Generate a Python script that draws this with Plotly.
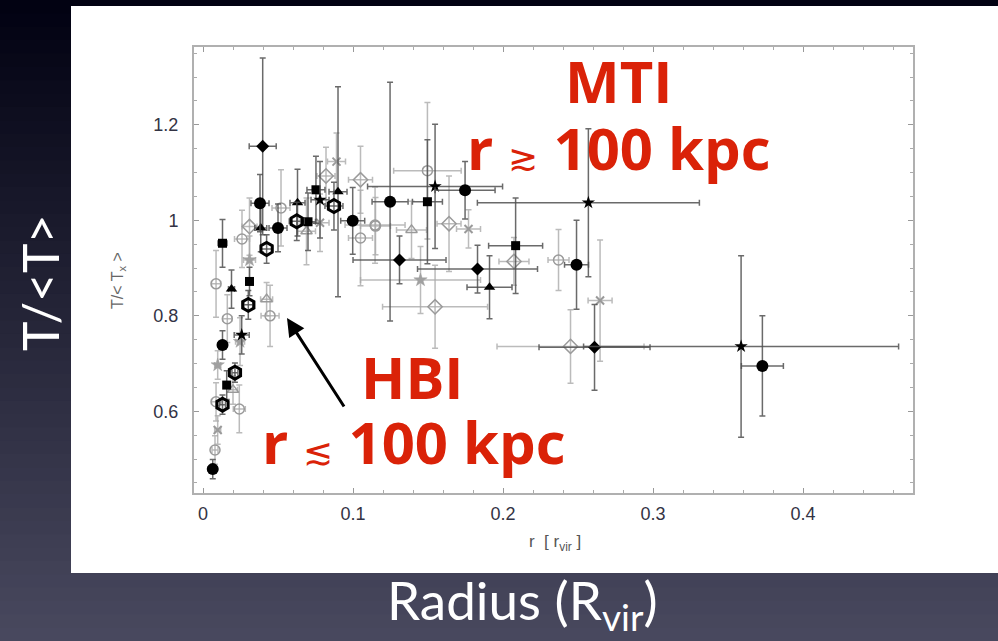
import plotly.graph_objects as go

# ---------------- data ----------------
# filled black circles
fc_x  = [0.0065, 0.038, 0.050, 0.0998, 0.1247, 0.1747, 0.249, 0.3729, 0.013]
fc_y  = [0.479, 1.036, 0.984, 0.999, 1.039, 1.063, 0.907, 0.695, 0.739]
fc_ex = [0.003, 0.006, 0.006, 0.008, 0.012, 0.020, 0.008, 0.014, 0.003]
fc_ey = [0.020, 0.060, 0.050, 0.070, 0.250, 0.060, 0.093, 0.105, 0.030]

# filled black diamonds (small)
fd_x  = [0.0398, 0.131, 0.183, 0.261]
fd_y  = [1.155, 0.917, 0.898, 0.734]
fd_ex = [0.009, 0.031, 0.040, 0.037]
fd_ey = [0.185, 0.050, 0.050, 0.090]

# filled black squares
fs_x  = [0.013, 0.031, 0.0158, 0.070, 0.0753, 0.1496, 0.2084]
fs_y  = [0.952, 0.872, 0.655, 0.997, 1.064, 1.039, 0.947]
fs_ex = [0.003, 0.002, 0.002, 0.005, 0.006, 0.010, 0.018]
fs_ey = [0.050, 0.030, 0.030, 0.060, 0.070, 0.130, 0.100]

# filled black triangles
ft_x  = [0.019, 0.0385, 0.063, 0.090, 0.191]
ft_y  = [0.856, 0.984, 1.037, 1.060, 0.860]
ft_ex = [0.002, 0.004, 0.005, 0.006, 0.015]
ft_ey = [0.040, 0.050, 0.070, 0.220, 0.066]

# filled black stars
fst_x   = [0.0258, 0.078, 0.1547, 0.2569, 0.3587]
fst_y   = [0.760, 1.043, 1.071, 1.037, 0.736]
fst_exp = [0.005, 0.006, 0.045, 0.074, 0.105]
fst_exm = [0.005, 0.006, 0.045, 0.074, 0.105]
fst_ey  = [0.040, 0.080, 0.130, 0.155, 0.190]

# open thick black hexagons
oh_x  = [0.013, 0.0213, 0.0302, 0.0424, 0.0625, 0.0873]
oh_y  = [0.614, 0.681, 0.823, 0.940, 0.998, 1.030]
oh_ex = [0.002, 0.002, 0.003, 0.004, 0.005, 0.006]
oh_ey = [0.020, 0.020, 0.030, 0.030, 0.040, 0.050]

# grey open circles
gc_x  = [0.0087, 0.0162, 0.0242, 0.0087, 0.008, 0.026, 0.0447, 0.1496, 0.1147, 0.237, 0.115, 0.105, 0.052]
gc_y  = [0.867, 0.794, 0.605, 0.620, 0.519, 0.961, 0.800, 1.104, 0.990, 0.917, 0.988, 0.963, 1.026]
gc_ex = [0.003, 0.003, 0.004, 0.003, 0.002, 0.005, 0.006, 0.0225, 0.020, 0.007, 0.010, 0.008, 0.006]
gc_ey = [0.070, 0.050, 0.050, 0.040, 0.030, 0.060, 0.064, 0.143, 0.080, 0.064, 0.060, 0.100, 0.080]

# grey open diamonds
gd_x  = [0.164, 0.1547, 0.2073, 0.245, 0.031, 0.082, 0.105]
gd_y  = [0.993, 0.819, 0.914, 0.736, 0.987, 1.093, 1.085]
gd_ex = [0.008, 0.035, 0.010, 0.049, 0.005, 0.006, 0.008]
gd_ey = [0.100, 0.087, 0.050, 0.077, 0.060, 0.060, 0.070]

# grey open triangles
gt_x  = [0.0424, 0.020, 0.139, 0.069]
gt_y  = [0.835, 0.645, 0.980, 0.977]
gt_ex = [0.004, 0.003, 0.010, 0.006]
gt_ey = [0.035, 0.030, 0.060, 0.070]

# grey stars
gs_x  = [0.0098, 0.031, 0.145, 0.0247]
gs_y  = [0.697, 0.917, 0.875, 0.746]
gs_ex = [0.002, 0.004, 0.040, 0.003]
gs_ey = [0.030, 0.050, 0.070, 0.050]

# grey crosses
gx_x  = [0.0098, 0.089, 0.177, 0.2647, 0.078]
gx_y  = [0.561, 1.123, 0.982, 0.832, 0.995]
gx_ex = [0.002, 0.006, 0.008, 0.008, 0.006]
gx_ey = [0.030, 0.060, 0.040, 0.127, 0.060]

x_ticks = [0, 0.1, 0.2, 0.3, 0.4]
x_tick_labels = ["0", "0.1", "0.2", "0.3", "0.4"]
y_ticks = [0.6, 0.8, 1.0, 1.2]
y_tick_labels = ["0.6", "0.8", "1", "1.2"]

# ---------------- layout geometry ----------------
W, H = 998, 641
L, R, T, B = 194, 913, 47, 493
PW, PH = R - L, B - T


def px(xp):
    return (xp - L) / PW


def py(yp):
    return (B - yp) / PH


fig = go.Figure()

DARK_ERR = "rgba(80,80,80,0.85)"
GREY_ERR = "rgba(170,170,170,0.8)"


def add(x, y, ex, ey, symbol, size, color, line_color, line_w, err_color, exm=None):
    ex_dict = dict(type="data", array=ex, color=err_color, thickness=1.5, width=3)
    if exm is not None:
        ex_dict["symmetric"] = False
        ex_dict["arrayminus"] = exm
    fig.add_trace(go.Scatter(
        x=x, y=y, mode="markers",
        marker=dict(symbol=symbol, size=size, color=color,
                    line=dict(color=line_color, width=line_w)),
        error_x=ex_dict,
        error_y=dict(type="data", array=ey, color=err_color, thickness=1.5, width=3),
        showlegend=False, hoverinfo="x+y"))


# grey ones first (underneath)
add(gc_x, gc_y, gc_ex, gc_ey, "circle-open", 10, "#9a9a9a", "#9a9a9a", 1.5, GREY_ERR)
add(gd_x, gd_y, gd_ex, gd_ey, "diamond-open", 11, "#9a9a9a", "#9a9a9a", 1.5, GREY_ERR)
add(gt_x, gt_y, gt_ex, gt_ey, "triangle-up-open", 10, "#9a9a9a", "#9a9a9a", 1.5, GREY_ERR)
add(gs_x, gs_y, gs_ex, gs_ey, "star", 10, "#a0a0a0", "#a0a0a0", 0.5, GREY_ERR)
add(gx_x, gx_y, gx_ex, gx_ey, "x-thin-open", 8, "#9a9a9a", "#9a9a9a", 2, GREY_ERR)
# black ones
add(fd_x, fd_y, fd_ex, fd_ey, "diamond", 10, "#000000", "#000000", 0, DARK_ERR)
add(fs_x, fs_y, fs_ex, fs_ey, "square", 9, "#000000", "#000000", 0, DARK_ERR)
add(ft_x, ft_y, ft_ex, ft_ey, "triangle-up", 10, "#000000", "#000000", 0, DARK_ERR)
add(fst_x, fst_y, fst_exp, fst_ey, "star", 10, "#000000", "#000000", 0, DARK_ERR, exm=fst_exm)
add(fc_x, fc_y, fc_ex, fc_ey, "circle", 12, "#000000", "#000000", 0, DARK_ERR)
add(oh_x, oh_y, oh_ex, oh_ey, "hexagon-open", 13, "#000000", "#000000", 3, DARK_ERR)

# ---------------- background ----------------
shapes = []
n_bands = 48
top_c = (2, 2, 18)
bot_c = (72, 72, 94)
for i in range(n_bands):
    t = i / (n_bands - 1)
    c = tuple(int(round(top_c[k] + (bot_c[k] - top_c[k]) * t)) for k in range(3))
    y0p = H * i / n_bands
    y1p = H * (i + 1) / n_bands + 1
    shapes.append(dict(type="rect", xref="paper", yref="paper",
                       x0=px(-2), x1=px(W + 2), y0=py(y1p), y1=py(y0p),
                       line=dict(width=0), fillcolor="rgb(%d,%d,%d)" % c, layer="below"))
shapes.append(dict(type="rect", xref="paper", yref="paper",
                   x0=px(71), x1=px(W + 2), y0=py(573), y1=py(6),
                   line=dict(width=0), fillcolor="white", layer="below"))

RED = "#DA2208"
RED_FONT = dict(family="Open Sans", size=58, color=RED, weight="bold")


def ann(text, xp, yp, font, angle=0):
    return dict(text=text, x=px(xp), y=py(yp), xref="paper", yref="paper",
                showarrow=False, textangle=angle, font=font,
                xanchor="center", yanchor="middle")


annotations = [
    ann("MTI", 618, 80, RED_FONT),
    ann("r <span style='font-weight:normal;font-size:36px'>≳</span> 100 kpc", 619, 147, RED_FONT),
    ann("HBI", 412, 376, RED_FONT),
    ann("r <span style='font-weight:normal;font-size:36px'>≲</span> 100 kpc", 414, 441, RED_FONT),
    # arrow
    dict(text="", x=px(287), y=py(318), xref="paper", yref="paper", showarrow=True,
         axref="pixel", ayref="pixel",
         ax=345 - 287, ay=408 - 318, arrowhead=2, arrowsize=1.2, arrowwidth=3, arrowcolor="black"),
    # inner axis titles
    ann("T/&lt; T<sub>x</sub> &gt;", 118, 281,
        dict(family="Liberation Sans", size=16, color="#666"), angle=-90),
    ann("r  [ r<sub>vir</sub> ]", 555, 543,
        dict(family="Liberation Sans", size=17, color="#555")),
    # slide texts
    ann("T/&lt;T&gt;", 40, 283, dict(family="Lato", size=50, color="white"), angle=-90),
    ann("Radius (R<sub>vir</sub>)", 522, 603, dict(family="Lato", size=53, color="white")),
]

axis_common = dict(showgrid=False, zeroline=False, showline=True, linecolor="#b0b0b0",
                   linewidth=2, mirror="ticks", ticks="inside", ticklen=5, tickcolor="#999",
                   tickfont=dict(family="Liberation Sans", size=18, color="#333344"))

fig.update_layout(
    width=W, height=H,
    margin=dict(l=L, r=W - R, t=T, b=H - B, pad=0),
    paper_bgcolor="rgb(30,30,45)", plot_bgcolor="rgba(0,0,0,0)",
    shapes=shapes, annotations=annotations,
    xaxis=dict(range=[-0.006, 0.4733], tickvals=x_ticks, ticktext=x_tick_labels,
               minor=dict(dtick=0.02, tick0=0, ticks="inside", ticklen=3, tickcolor="#aaa"),
               ticklabelstandoff=3, **axis_common),
    yaxis=dict(range=[0.429, 1.363], tickvals=y_ticks, ticktext=y_tick_labels,
               minor=dict(dtick=0.05, tick0=0, ticks="inside", ticklen=3, tickcolor="#aaa"),
               ticklabelstandoff=10, **axis_common),
)

fig.write_html("out.html")
